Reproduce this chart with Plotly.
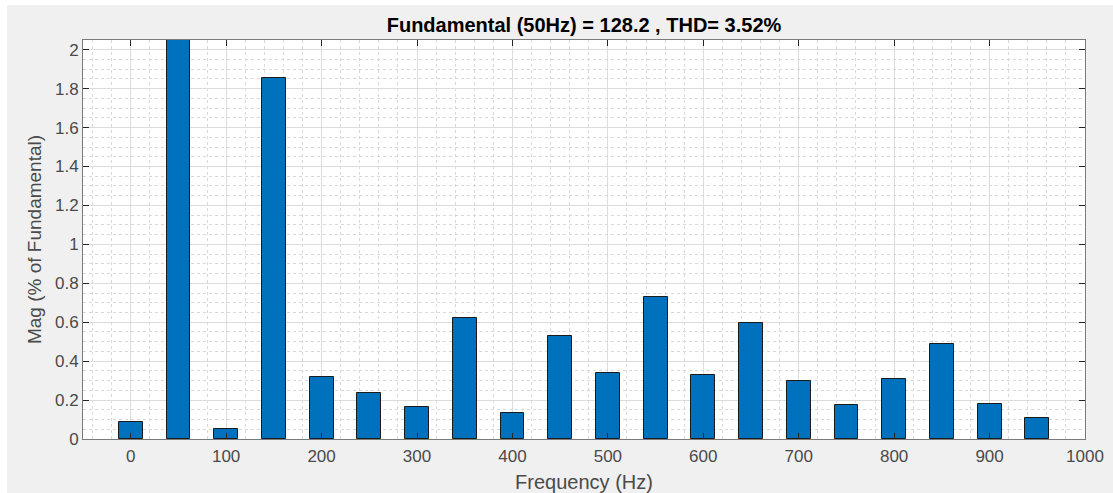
import plotly.graph_objects as go

freqs = [0, 50, 100, 150, 200, 250, 300, 350, 400, 450, 500,
         550, 600, 650, 700, 750, 800, 850, 900, 950]
mags = [0.089, 100.0, 0.051, 1.857, 0.32, 0.235, 0.163, 0.62, 0.132, 0.53,
        0.338, 0.732, 0.329, 0.598, 0.298, 0.175, 0.307, 0.488, 0.18, 0.106]
title_text = "Fundamental (50Hz) = 128.2 , THD= 3.52%"
x_ticks = [0, 100, 200, 300, 400, 500, 600, 700, 800, 900, 1000]
y_ticks = [0, 0.2, 0.4, 0.6, 0.8, 1, 1.2, 1.4, 1.6, 1.8, 2]

W, H = 1113, 493
L, R, T, B = 83, 28, 40, 54
pw, ph = W - L - R, H - T - B

def px_x(p):
    return (p - L) / pw

def px_y(p):
    return (H - B - p) / ph

fig = go.Figure()
fig.add_trace(go.Bar(
    x=freqs, y=mags, width=25,
    marker=dict(color="#0072bd", line=dict(color="#1a1a1a", width=1)),
    cliponaxis=True,
))

FONT = "Liberation Sans, Arial"
tickfont = dict(family=FONT, size=17, color="#4a4a4a")
fig.update_layout(
    width=W, height=H,
    margin=dict(l=L, r=R, t=T, b=B, autoexpand=False),
    paper_bgcolor="white",
    plot_bgcolor="white",
    showlegend=False,
    bargap=0,
    title=dict(text="<b>" + title_text + "</b>", x=0.5 * (L + W - R) / W, xanchor="center",
               y=1 - 25 / H, yanchor="middle",
               font=dict(family=FONT, size=20, color="#000000")),
    shapes=[
        dict(type="rect", xref="paper", yref="paper", layer="below",
             x0=px_x(7), x1=px_x(W + 5), y0=px_y(H + 5), y1=px_y(5),
             fillcolor="#f0f0f0", line=dict(width=0)),
        dict(type="rect", xref="paper", yref="paper", layer="below",
             x0=0, x1=1, y0=0, y1=1,
             fillcolor="white", line=dict(width=0)),
    ],
    xaxis=dict(
        range=[-50, 1000], tickmode="array", tickvals=x_ticks,
        ticks="inside", ticklen=6, tickcolor="#262626", tickwidth=1,
        showline=True, linecolor="#7a7a7a", linewidth=1, mirror="ticks",
        showgrid=True, gridcolor="#dcdcdc", gridwidth=1,
        minor=dict(dtick=20, tick0=0, showgrid=True, griddash="dot",
                   gridcolor="#d9d9d9", gridwidth=1, ticks=""),
        tickfont=tickfont, zeroline=False, ticklabelstandoff=2, automargin=False,
        title=dict(text="Frequency (Hz)", standoff=9,
                   font=dict(family=FONT, size=20, color="#4a4a4a")),
    ),
    yaxis=dict(
        range=[0, 2.05], tickmode="array", tickvals=y_ticks,
        ticks="inside", ticklen=6, tickcolor="#262626", tickwidth=1,
        showline=True, linecolor="#7a7a7a", linewidth=1, mirror="ticks",
        showgrid=True, gridcolor="#dcdcdc", gridwidth=1,
        minor=dict(dtick=0.05, tick0=0, showgrid=True, griddash="dot",
                   gridcolor="#d9d9d9", gridwidth=1, ticks=""),
        tickfont=tickfont, zeroline=False, ticklabelstandoff=0, automargin=False,
        title=dict(text="Mag (% of Fundamental)", standoff=8,
                   font=dict(family=FONT, size=19, color="#4a4a4a")),
    ),
)

fig.write_html("out.html")
